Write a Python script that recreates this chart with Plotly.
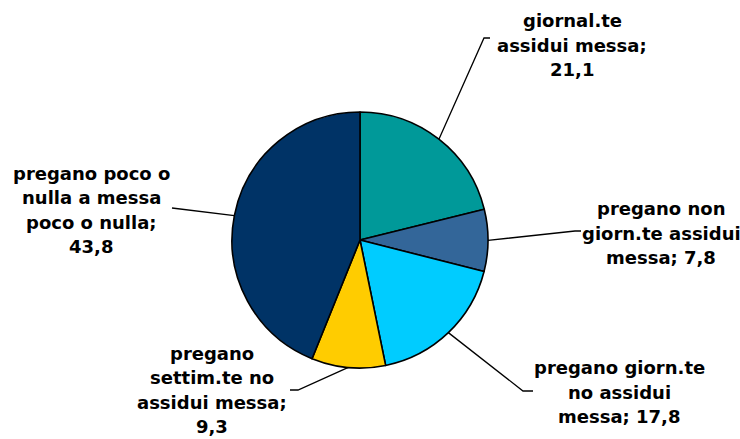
import math
import plotly.graph_objects as go

# Slices, clockwise from 12 o'clock
labels = [
    ["giornal.te", "assidui messa;", "21,1"],
    ["pregano non", "giorn.te assidui", "messa; 7,8"],
    ["pregano giorn.te", "no assidui", "messa; 17,8"],
    ["pregano", "settim.te no", "assidui messa;", "9,3"],
    ["pregano poco o", "nulla a messa", "poco o nulla;", "43,8"],
]
values = [21.1, 7.8, 17.8, 9.3, 43.8]
colors = ["#009999", "#336699", "#00CCFF", "#FFCC00", "#003366"]

W, H = 740, 439
CX, CY, R = 360, 240, 128  # pie centre / radius in pixels
LINE_H = 24.5               # label line pitch in pixels

# label block centre (px) and leader elbow + stub end (px)
label_pos = [(572, 45), (661, 233), (619, 392), (212, 390), (91, 210)]
elbows = [((484, 38), (490, 38)),
          ((575, 231), (581, 231)),
          ((523, 391), (533, 391)),
          ((298, 390), (290, 390)),
          ((172, 208), (172, 208))]


def px(x, y):
    return x / W, 1 - y / H


fig = go.Figure(go.Pie(
    values=values,
    labels=[" ".join(l) for l in labels],
    sort=False,
    direction="clockwise",
    rotation=0,
    textinfo="none",
    hoverinfo="label+value",
    marker=dict(colors=colors, line=dict(color="#000000", width=1.6)),
    domain=dict(x=[(CX - R) / W, (CX + R) / W],
                y=[1 - (CY + R) / H, 1 - (CY - R) / H]),
    showlegend=False,
))

shapes = []
annotations = []
total = sum(values)
cum = 0.0
for lines, v, (lx, ly), (e1, e2) in zip(labels, values, label_pos, elbows):
    mid = (cum + v / 2) / total * 2 * math.pi
    cum += v
    sx = CX + R * math.sin(mid)
    sy = CY - R * math.cos(mid)
    x0, y0 = px(sx, sy)
    x1, y1 = px(*e1)
    x2, y2 = px(*e2)
    shapes.append(dict(type="path", xref="paper", yref="paper",
                       path=f"M {x0} {y0} L {x1} {y1} L {x2} {y2}",
                       line=dict(color="#000000", width=1.3)))
    n = len(lines)
    for i, txt in enumerate(lines):
        yy = ly + (i - (n - 1) / 2) * LINE_H
        ax, ay = px(lx, yy)
        annotations.append(dict(text=txt, x=ax, y=ay, xref="paper", yref="paper",
                                xanchor="center", yanchor="middle", showarrow=False,
                                font=dict(family="DejaVu Sans", size=18,
                                          color="#000000", weight="bold")))

fig.update_layout(
    width=W, height=H,
    margin=dict(l=0, r=0, t=0, b=0),
    paper_bgcolor="#FFFFFF",
    plot_bgcolor="#FFFFFF",
    shapes=shapes,
    annotations=annotations,
)

fig.write_html("out.html")
